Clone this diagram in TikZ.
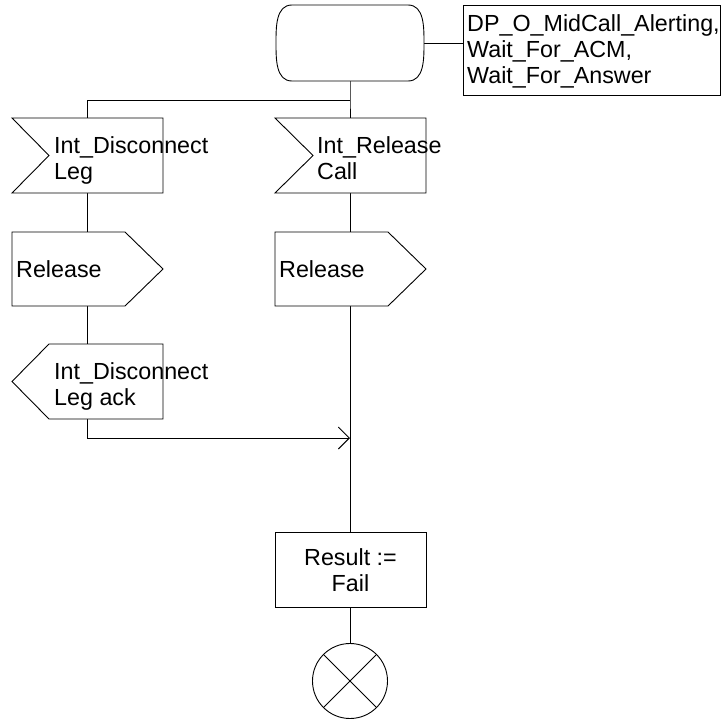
\documentclass[tikz,border=0pt]{standalone}
\usepackage{fontspec}
\setmainfont{Liberation Sans}
\usetikzlibrary{arrows.meta}
\begin{document}
\begin{tikzpicture}[x=1pt,y=-1pt,
  every node/.style={inner sep=0pt,font=\fontsize{23.3}{26}\selectfont},
  shp/.style={draw=black,line width=0.9pt,fill=white},
  conn/.style={draw=black,line width=0.9pt},
  flowarrow/.style={conn,-{Straight Barb[length=11pt,width=22pt,line width=0.9pt]}},
  lbl/.style={align=left,anchor=west},
  clbl/.style={align=center,anchor=center}]
\useasboundingbox (0,0) rectangle (723,720);
% coordinates
\coordinate (stB) at (350,81);
\coordinate (stR) at (424,43);
\coordinate (jn) at (350,100);
\coordinate (jl) at (87,100);
\coordinate (in1T) at (87,118);
\coordinate (in1B) at (87,193);
\coordinate (in2T) at (350,118);
\coordinate (in2B) at (350,193);
\coordinate (out1T) at (87,232);
\coordinate (out1B) at (87,306);
\coordinate (out2T) at (350,232);
\coordinate (out2B) at (350,306);
\coordinate (ackT) at (87,344);
\coordinate (ackB) at (87,419);
\coordinate (ackC) at (87,438);
\coordinate (mrg) at (350,438);
\coordinate (tskT) at (350,532);
\coordinate (tskB) at (350,607);
\coordinate (stopT) at (350,644);
\coordinate (cmtL) at (463,43);
% connectors
\draw[conn] (stB) -- (jn) -- (in2T);
\draw[conn] (jn) -- (jl) -- (in1T);
\draw[conn] (stR) -- (cmtL);
\draw[conn] (in1B) -- (out1T);
\draw[conn] (out1B) -- (ackT);
\draw[conn] (in2B) -- (out2T);
\draw[conn] (out2B) -- (tskT);
\draw[flowarrow] (ackB) -- (ackC) -- (mrg);
\draw[conn] (tskB) -- (stopT);
% state
\draw[shp] (292,5) -- (408,5) to[out=0,in=90] (424,43) to[out=-90,in=0] (408,81)
  -- (292,81) to[out=180,in=-90] (276,43) to[out=90,in=180] (292,5);
% comment box
\draw[shp] (463,5) rectangle (720,95);
\node[lbl] (cmt) at (467,51.8) {\strut DP\_O\_MidCall\_Alerting,\\\strut Wait\_For\_ACM,\\\strut Wait\_For\_Answer};
% inputs
\draw[shp] (12,118) -- (163,118) -- (163,193) -- (12,193) -- (49,155.5) -- cycle;
\node[lbl] (in1) at (54,161) {\strut Int\_Disconnect\\\strut Leg};
\draw[shp] (275,118) -- (426,118) -- (426,193) -- (275,193) -- (313,155.5) -- cycle;
\node[lbl] (in2) at (317,161) {\strut Int\_Release\\\strut Call};
% outputs
\draw[shp] (12,232) -- (125,232) -- (163,269) -- (125,306) -- (12,306) -- cycle;
\node[anchor=base west] (out1) at (16,277) {Release};
\draw[shp] (275,232) -- (388,232) -- (426,269) -- (388,306) -- (275,306) -- cycle;
\node[anchor=base west] (out2) at (279,277) {Release};
% reversed output
\draw[shp] (49,344) -- (163,344) -- (163,419) -- (49,419) -- (12,381.5) -- cycle;
\node[lbl] (ack) at (54,386.8) {\strut Int\_Disconnect\\\strut Leg ack};
% task
\draw[shp] (275,532) rectangle (426,607);
\node[clbl] (tsk) at (350.5,573) {\strut Result :=\\\strut Fail};
% stop
\draw[shp] (350,681) circle (37.5);
\draw[conn] (350,681) ++(45:37.5) -- ++(225:75);
\draw[conn] (350,681) ++(135:37.5) -- ++(-45:75);
\end{tikzpicture}
\end{document}
